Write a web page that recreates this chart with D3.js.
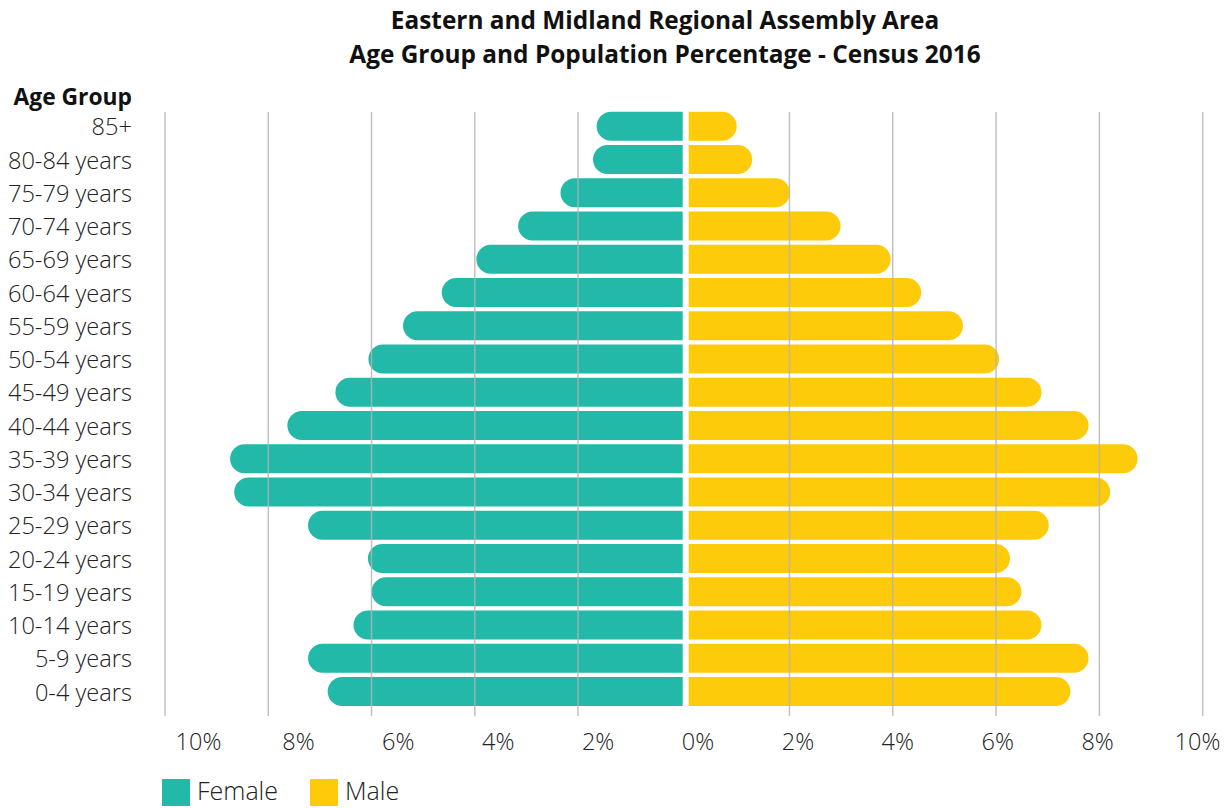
<!DOCTYPE html>
<html>
<head>
<meta charset="utf-8">
<script src="https://cdn.jsdelivr.net/npm/d3@7"></script>
<style>
  html, body { margin: 0; padding: 0; background: #fff; }
  svg { display: block; font-family: "Open Sans", "Noto Sans", sans-serif; }
</style>
</head>
<body>
<svg id="chart" width="1227" height="808"></svg>
<script>
// ---- data ----
const ageGroups = ["85+", "80-84 years", "75-79 years", "70-74 years", "65-69 years", "60-64 years",
  "55-59 years", "50-54 years", "45-49 years", "40-44 years", "35-39 years", "30-34 years",
  "25-29 years", "20-24 years", "15-19 years", "10-14 years", "5-9 years", "0-4 years"];
const female = [1.64, 1.71, 2.34, 3.16, 3.97, 4.64, 5.39, 6.06, 6.70, 7.63, 8.74, 8.66,
  7.23, 6.07, 6.00, 6.35, 7.23, 6.85];
const male = [0.98, 1.28, 2.01, 2.99, 3.96, 4.55, 5.36, 6.06, 6.88, 7.79, 8.74, 8.21,
  7.02, 6.27, 6.49, 6.88, 7.79, 7.44];
const gridTicks = [0, 2, 4, 6, 8, 10];
const labelTicks = [-10, -8, -6, -4, -2, 0, 2, 4, 6, 8, 10];
const seriesNames = ["Female", "Male"];
const titleLines = ["Eastern and Midland Regional Assembly Area",
  "Age Group and Population Percentage - Census 2016"];

const colors = { Female: "#22B9A8", Male: "#FECB0B" };

const svg = d3.select("#chart");

// scales
const xLeft = d3.scaleLinear().domain([0, 10]).range([681.3, 165]);
const xRight = d3.scaleLinear().domain([0, 10]).range([686.1, 1202.7]);
const xLabel = d3.scaleLinear().domain([-10, 10]).range([198, 1197]);
const y = d3.scaleBand().domain(ageGroups).range([109.6, 708.1]).paddingInner(0.128).paddingOuter(0.064);

// title
svg.append("g").selectAll("text").data(titleLines).join("text")
  .attr("x", 665).attr("y", (d, i) => 29 + i * 34)
  .attr("text-anchor", "middle")
  .attr("font-size", 24.4).attr("font-weight", 700).attr("fill", "#111")
  .text(d => d);

// bars
const h = y.bandwidth();
const r = h / 2;
function femalePath(v, cat) {
  const y0 = y(cat), x0 = xLeft(0) + 1.4, x1 = xLeft(v);
  return `M${x0},${y0}H${x1 + r}A${r},${r} 0 0 0 ${x1 + r},${y0 + h}H${x0}Z`;
}
function malePath(v, cat) {
  const y0 = y(cat), x0 = xRight(0) + 2.6, x1 = xRight(v);
  return `M${x0},${y0}H${x1 - r}A${r},${r} 0 0 1 ${x1 - r},${y0 + h}H${x0}Z`;
}
svg.append("g").selectAll("path").data(female).join("path")
  .attr("d", (d, i) => femalePath(d, ageGroups[i]))
  .attr("fill", colors.Female);
svg.append("g").selectAll("path").data(male).join("path")
  .attr("d", (d, i) => malePath(d, ageGroups[i]))
  .attr("fill", colors.Male);

// gridlines (drawn over bars)
const grid = svg.append("g").attr("stroke", "#b4b4b4").attr("stroke-width", 1.5).attr("opacity", 0.8);
grid.selectAll("line.l").data(gridTicks.filter(d => d > 0)).join("line").attr("class", "l")
  .attr("x1", d => xLeft(d)).attr("x2", d => xLeft(d)).attr("y1", 112).attr("y2", 716);
grid.selectAll("line.r").data(gridTicks.filter(d => d > 0)).join("line").attr("class", "r")
  .attr("x1", d => xRight(d)).attr("x2", d => xRight(d)).attr("y1", 112).attr("y2", 716);

// x tick labels
const xAxis = d3.axisBottom(xLabel).tickValues(labelTicks).tickSize(0).tickPadding(0)
  .tickFormat(d => Math.abs(d) + "%");
const gx = svg.append("g").attr("transform", "translate(0,733)").call(xAxis);
gx.select(".domain").remove();
gx.selectAll("text").attr("font-size", 23.5).attr("fill", "#222").attr("font-weight", 300)
  .attr("font-family", "'Open Sans', sans-serif").attr("dy", "0.71em");

// y axis labels
const yAxis = d3.axisLeft(y).tickSize(0).tickPadding(0);
const gy = svg.append("g").attr("transform", "translate(132,1.5)").call(yAxis);
gy.select(".domain").remove();
gy.selectAll("text").attr("font-size", 23.6).attr("fill", "#222").attr("font-weight", 300)
  .attr("font-family", "'Open Sans', sans-serif");

svg.append("text").attr("x", 132).attr("y", 105).attr("text-anchor", "end")
  .attr("font-size", 22.8).attr("font-weight", 700).attr("fill", "#111").text("Age Group");

// legend
const legend = svg.append("g");
const legendX = [162, 310];
seriesNames.forEach((name, i) => {
  const g = legend.append("g").attr("transform", `translate(${legendX[i]},779)`);
  g.append("rect").attr("width", 28).attr("height", 27).attr("fill", colors[name]);
  g.append("text").attr("x", 35).attr("y", 21).attr("font-size", 25).attr("font-weight", 300)
    .attr("fill", "#222").text(name);
});
</script>
</body>
</html>
